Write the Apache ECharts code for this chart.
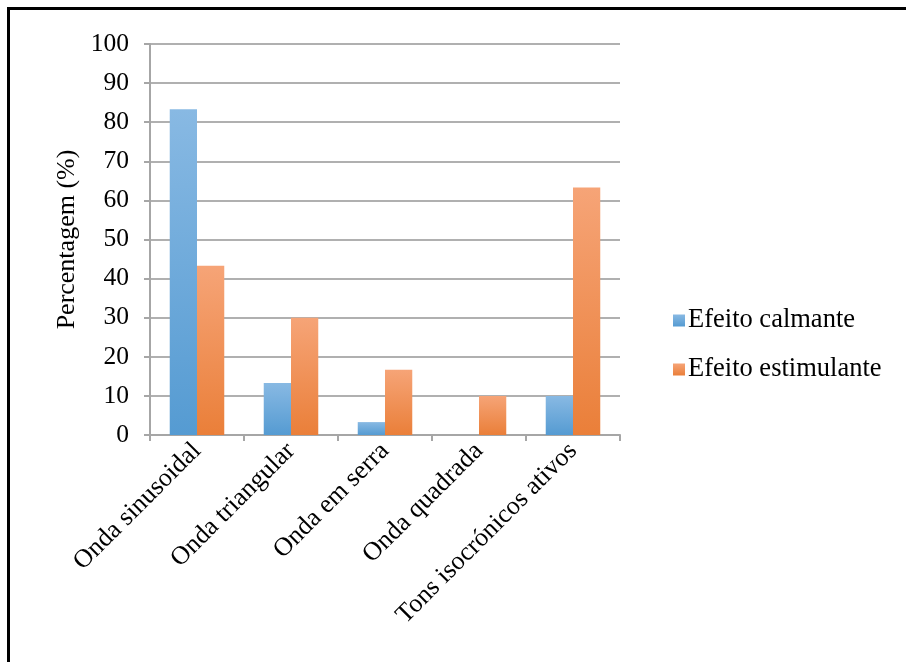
<!DOCTYPE html>
<html>
<head>
<meta charset="utf-8">
<script src="https://cdn.jsdelivr.net/npm/echarts@6/dist/echarts.min.js"></script>
<style>
  html, body { margin: 0; padding: 0; background: #fff; overflow: hidden; }
  #frame { position: absolute; left: 7px; top: 7px; width: 1000px; height: 700px;
           border: 3px solid #000; box-sizing: border-box; }
  #chart { position: absolute; left: 0; top: 0; width: 906px; height: 662px; }
</style>
</head>
<body>
<div id="frame"></div>
<div id="chart"></div>
<script>
const categories = ['Onda sinusoidal', 'Onda triangular', 'Onda em serra', 'Onda quadrada', 'Tons isocrónicos ativos'];
const calmante = [83.3, 13.3, 3.3, 0, 10];
const estimulante = [43.3, 30, 16.7, 10, 63.3];
const seriesNames = ['Efeito calmante', 'Efeito estimulante'];
const yTicks = { min: 0, max: 100, interval: 10 };

const font = 'Liberation Serif, Times New Roman, serif';
const grad = (top, bottom) => new echarts.graphic.LinearGradient(0, 0, 0, 1, [
  { offset: 0, color: top }, { offset: 1, color: bottom }
]);

const chart = echarts.init(document.getElementById('chart'));
chart.setOption({
  animation: false,
  textStyle: { fontFamily: font },
  grid: { left: 150, right: 286, top: 44, bottom: 227 },
  legend: {
    orient: 'vertical', left: 668, top: 302, itemGap: 22,
    itemWidth: 12, itemHeight: 12, icon: 'rect',
    textStyle: { fontFamily: font, fontSize: 26.5, color: '#000', padding: [0, 0, 0, -2] },
    data: seriesNames
  },
  xAxis: {
    type: 'category', data: categories,
    axisLine: { lineStyle: { color: '#a6a6a6', width: 2 } },
    axisTick: { show: true, length: 6, lineStyle: { color: '#a6a6a6', width: 2 } },
    axisLabel: { rotate: 45, fontSize: 26, color: '#000', margin: 12, fontFamily: font }
  },
  yAxis: {
    type: 'value', min: yTicks.min, max: yTicks.max, interval: yTicks.interval,
    name: 'Percentagem (%)', nameLocation: 'middle', nameGap: 68,
    nameTextStyle: { fontSize: 26, color: '#000', fontFamily: font },
    axisLine: { show: true, lineStyle: { color: '#a6a6a6', width: 2 } },
    axisTick: { show: true, length: 6, lineStyle: { color: '#a6a6a6', width: 2 } },
    axisLabel: { fontSize: 25.5, color: '#000', margin: 21, fontFamily: font },
    splitLine: { lineStyle: { color: '#b0b0b0', width: 2 } }
  },
  series: [
    { name: seriesNames[0], type: 'bar', data: calmante, barGap: '0%', barCategoryGap: '42%',
      itemStyle: { color: grad('#88b9e3', '#559bd2') } },
    { name: seriesNames[1], type: 'bar', data: estimulante,
      itemStyle: { color: grad('#f6a477', '#ea7f39') } }
  ]
});
</script>
</body>
</html>
